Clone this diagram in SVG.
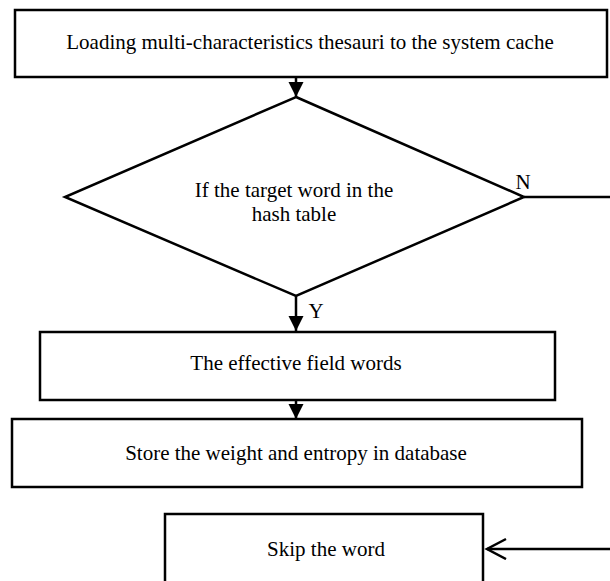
<svg xmlns="http://www.w3.org/2000/svg" width="610" height="581" viewBox="0 0 610 581">
<style>
.box{fill:#fff;stroke:#000;stroke-width:2.5}
.ln{fill:none;stroke:#000;stroke-width:2.5}
text{font-family:"Liberation Serif","Times New Roman",serif;font-size:21px;fill:#000;text-anchor:middle}
</style>
<defs>
<marker id="tri" markerUnits="userSpaceOnUse" markerWidth="16" markerHeight="18" refX="15" refY="7.5" orient="auto">
<path d="M0,0 L15,7.5 L0,15 Z" fill="#000"/>
</marker>
<marker id="open" markerUnits="userSpaceOnUse" markerWidth="24" markerHeight="24" refX="21" refY="11" orient="auto">
<path d="M2,1 L21,11 L2,21" fill="none" stroke="#000" stroke-width="2.5"/>
</marker>
</defs>
<g id="connectors">
<line class="ln" x1="296" y1="77" x2="296" y2="97" marker-end="url(#tri)"/>
<line class="ln" x1="296" y1="296" x2="296" y2="331" marker-end="url(#tri)"/>
<line class="ln" x1="296" y1="400" x2="296" y2="419" marker-end="url(#tri)"/>
<line class="ln" x1="524" y1="197" x2="610" y2="197"/>
<line class="ln" x1="610" y1="549" x2="487" y2="549" marker-end="url(#open)"/>
<text x="523" y="189">N</text>
<text x="316" y="318">Y</text>
</g>
<g id="load">
<rect class="box" x="15" y="10" width="592" height="67"/>
<text x="310" y="49">Loading multi-characteristics thesauri to the system cache</text>
</g>
<g id="decision">
<polygon class="box" points="296,97 524,197 296,296 65,197"/>
<text x="294" y="197">If the target word in the</text>
<text x="294" y="221">hash table</text>
</g>
<g id="effective">
<rect class="box" x="40" y="332" width="515" height="68"/>
<text x="296" y="370">The effective field words</text>
</g>
<g id="store">
<rect class="box" x="12" y="419" width="570" height="68"/>
<text x="296" y="460">Store the weight and entropy in database</text>
</g>
<g id="skip">
<rect class="box" x="165" y="514" width="318" height="70"/>
<text x="326" y="556">Skip the word</text>
</g>
</svg>
